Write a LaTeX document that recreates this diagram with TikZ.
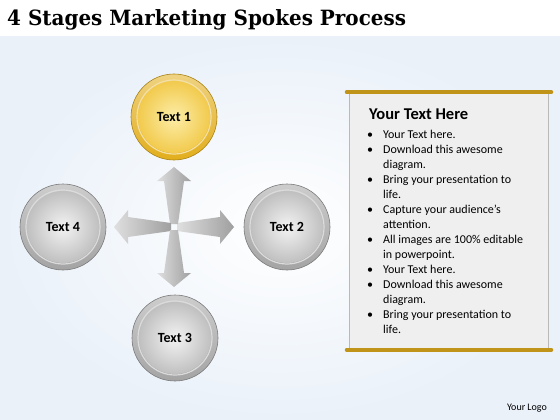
\documentclass[tikz,border=0pt]{standalone}
\usepackage{fontspec}
\setmainfont{Carlito}
\newfontfamily\slabfont{DejaVu Serif}
\usetikzlibrary{positioning}
\definecolor{gold}{HTML}{E2AE1C}
\definecolor{goldlt}{HTML}{FCEDA8}
\definecolor{golddk}{HTML}{F0C43C}
\definecolor{silver}{HTML}{A4A4A4}
\definecolor{ballin}{HTML}{F3F3F3}
\definecolor{ballout}{HTML}{B6B6B6}
\definecolor{panelbg}{HTML}{EFEFEF}
\definecolor{bgblue}{HTML}{EAF1F9}
\tikzset{ball/.style n args={3}{circle, minimum size=86pt, inner sep=0pt,
  top color=white!45!#1, bottom color=#1, draw=#1!75!black, line width=0.6pt,
  font=\bfseries\fontsize{14}{16}\selectfont,
  path picture={\shade[inner color=#2, outer color=#3] (path picture bounding box.center) circle (36pt);
    \draw[white!60!#1, line width=1.2pt] (path picture bounding box.center) circle (37pt);}}}
\tikzset{spoke/.style={left color=gray!25, right color=gray!75}}
\tikzset{bar/.style={draw=gold!85!black, line width=4pt, line cap=round}}

\begin{document}
\begin{tikzpicture}[x=1pt,y=-1pt]
\useasboundingbox (0,0) rectangle (560,420);
\fill[white] (0,0) rectangle (560,37);
\shade[inner color=white, outer color=bgblue] (0,37) rectangle (560,420);

\node[anchor=base west, inner sep=0pt, font=\slabfont\bfseries\fontsize{21}{24}\selectfont] (title) at (7,26)
  {\scalebox{0.95}[1]{4 Stages Marketing Spokes Process}};

% spokes
\coordinate (hub) at (174,227);
\foreach \a in {0,90,180,270} {
  \begin{scope}[shift={(hub)}, rotate=\a]
    \shade[spoke] (3,-4) -- (46,-10) -- (46,-17) -- (60,0) -- (46,17) -- (46,10) -- (3,4) -- cycle;
  \end{scope}
}

\node[ball={gold}{goldlt}{golddk}] (t1) at (174,117) {Text 1};
\node[ball={silver}{ballin}{ballout}] (t2) at (287,227) {Text 2};
\node[ball={silver}{ballin}{ballout}] (t3) at (175,338) {Text 3};
\node[ball={silver}{ballin}{ballout}] (t4) at (63,227) {Text 4};

% text panel
\node[draw=gray!55, line width=1.5pt, fill=panelbg, minimum width=199pt, minimum height=256pt] (panel) at (449,221) {};
\draw[bar] ([xshift=-2pt]panel.north west) -- ([xshift=2pt]panel.north east);
\draw[bar] ([xshift=-2pt]panel.south west) -- ([xshift=2pt]panel.south east);

\node[anchor=west, inner sep=0pt, font=\bfseries\fontsize{16.5}{19}\selectfont] (head) at (369,114) {Your Text Here};
\node[anchor=north west, inner sep=0pt] (list) at (366,130) {%
\begin{minipage}[t]{180pt}\fontsize{12}{15}\selectfont
\begin{list}{\textbullet}{\setlength{\leftmargin}{17pt}\setlength{\labelsep}{10pt}\setlength{\labelwidth}{7pt}%
 \setlength{\itemsep}{0pt}\setlength{\parsep}{0pt}\setlength{\topsep}{0pt}\setlength{\partopsep}{0pt}}
\item Your Text here.
\item Download this awesome\\ diagram.
\item Bring your presentation to\\ life.
\item Capture your audience’s\\ attention.
\item All images are 100\% editable\\ in powerpoint.
\item Your Text here.
\item Download this awesome\\ diagram.
\item Bring your presentation to\\ life.
\end{list}
\end{minipage}};

\node[font=\fontsize{10}{12}\selectfont] (logo) at (527,408) {Your Logo};
\end{tikzpicture}
\end{document}
